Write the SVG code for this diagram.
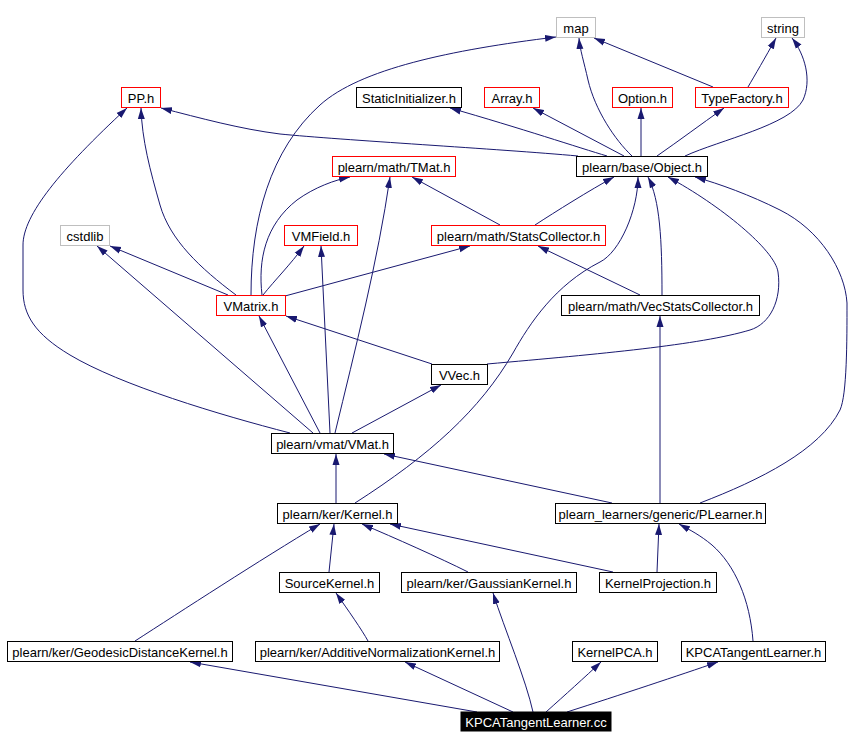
<svg xmlns="http://www.w3.org/2000/svg" width="865" height="748" viewBox="0 0 865 748">
<style>
.n rect{fill:#fff;stroke:#000;stroke-width:1}
.n.r rect{stroke:#f00}
.n.g rect{stroke:#bfbfbf}
.n text{font-family:"Liberation Sans",Arial,sans-serif;font-size:13px;text-anchor:middle;fill:#000}
#n_cc rect{fill:#000;stroke:#000}
#n_cc text{fill:#fff}
#edges path{fill:none;stroke:#191970;stroke-width:1}
</style>
<defs>
<marker id="ah" markerWidth="11" markerHeight="8" refX="11" refY="4" orient="auto" markerUnits="userSpaceOnUse">
<path d="M0,0.5 L11,4 L0,7.5 z" fill="#191970"/>
</marker>
</defs>
<rect width="865" height="748" fill="#fff"/>
<g id="edges" marker-end="url(#ah)">
<path d="M477,712 L190,662" marker-end="url(#ah)"/>
<path d="M513,712 L405,662" marker-end="url(#ah)"/>
<path d="M533,712 C526,680 505,630 493,593" marker-end="url(#ah)"/>
<path d="M546,712 C565,695 585,677 601,662" marker-end="url(#ah)"/>
<path d="M567,712 C620,695 680,675 718,662" marker-end="url(#ah)"/>
<path d="M135,641 C180,612 260,560 320,524" marker-end="url(#ah)"/>
<path d="M368,641 C362,630 348,610 336,593" marker-end="url(#ah)"/>
<path d="M329,572 L334,524" marker-end="url(#ah)"/>
<path d="M468,572 C440,558 395,538 362,524" marker-end="url(#ah)"/>
<path d="M613,572 L390,524" marker-end="url(#ah)"/>
<path d="M657,572 L659,524" marker-end="url(#ah)"/>
<path d="M753,641 C750,600 735,565 712,545 C700,535 690,530 679,524" marker-end="url(#ah)"/>
<path d="M336,503 L336,454" marker-end="url(#ah)"/>
<path d="M355,503 C430,455 480,410 513,353 C530,323 555,285 600,262 C620,252 638,210 638,177" marker-end="url(#ah)"/>
<path d="M612,503 L384,454" marker-end="url(#ah)"/>
<path d="M660,503 L660,316" marker-end="url(#ah)"/>
<path d="M700,503 C760,480 820,450 840,410 C847,395 847,340 847,303 C845,270 820,230 780,210 C750,195 720,184 695,177" marker-end="url(#ah)"/>
<path d="M487,364 C600,354 700,345 750,330 C770,324 782,300 778,272 C775,250 720,205 668,177" marker-end="url(#ah)"/>
<path d="M662,295 C662,240 660,200 648,177" marker-end="url(#ah)"/>
<path d="M640,295 L538,246" marker-end="url(#ah)"/>
<path d="M500,225 L412,177" marker-end="url(#ah)"/>
<path d="M535,225 C555,212 590,190 614,177" marker-end="url(#ah)"/>
<path d="M290,433 C220,415 120,385 70,355 C35,334 23,315 23,290 L23,245 C23,215 60,170 127,108" marker-end="url(#ah)"/>
<path d="M313,433 L97,246" marker-end="url(#ah)"/>
<path d="M320,433 L259,316" marker-end="url(#ah)"/>
<path d="M330,433 L321,246" marker-end="url(#ah)"/>
<path d="M335,433 C355,350 378,260 390,177" marker-end="url(#ah)"/>
<path d="M352,433 L441,385" marker-end="url(#ah)"/>
<path d="M432,364 L286,316" marker-end="url(#ah)"/>
<path d="M236,295 C200,268 170,240 160,205 C150,170 142,140 141,108" marker-end="url(#ah)"/>
<path d="M228,295 L110,246" marker-end="url(#ah)"/>
<path d="M251,295 C251,220 270,150 320,105 C360,69 450,50 556,37" marker-end="url(#ah)"/>
<path d="M262,295 C258,260 265,225 297,200 C315,187 335,180 350,177" marker-end="url(#ah)"/>
<path d="M263,295 C275,280 290,265 304,246" marker-end="url(#ah)"/>
<path d="M285,296 L470,246" marker-end="url(#ah)"/>
<path d="M578,156 C500,149 340,140 280,134 C240,129 200,118 161,108" marker-end="url(#ah)"/>
<path d="M607,156 C580,148 520,128 450,108" marker-end="url(#ah)"/>
<path d="M624,156 L533,108" marker-end="url(#ah)"/>
<path d="M632,156 C615,140 595,110 588,80 C584,62 580,50 579,38" marker-end="url(#ah)"/>
<path d="M641,156 L641,108" marker-end="url(#ah)"/>
<path d="M657,156 C680,140 700,125 724,108" marker-end="url(#ah)"/>
<path d="M685,156 C720,140 790,125 803,100 C812,80 805,55 792,38" marker-end="url(#ah)"/>
<path d="M713,87 L594,38" marker-end="url(#ah)"/>
<path d="M748,87 C755,75 765,58 776,38" marker-end="url(#ah)"/>
</g>
<g id="n_map" class="n g"><rect x="556.5" y="17.5" width="39" height="20"/><text x="576" y="33">map</text></g>
<g id="n_string" class="n g"><rect x="761.5" y="17.5" width="43" height="20"/><text x="783" y="33">string</text></g>
<g id="n_pp" class="n r"><rect x="121.5" y="87.5" width="39" height="20"/><text x="141" y="103">PP.h</text></g>
<g id="n_static" class="n"><rect x="356.5" y="87.5" width="105" height="20"/><text x="409" y="103">StaticInitializer.h</text></g>
<g id="n_array" class="n r"><rect x="484.5" y="87.5" width="55" height="20"/><text x="512" y="103">Array.h</text></g>
<g id="n_option" class="n r"><rect x="612.5" y="87.5" width="60" height="20"/><text x="642.5" y="103">Option.h</text></g>
<g id="n_typefactory" class="n r"><rect x="695.5" y="87.5" width="93" height="20"/><text x="742" y="103">TypeFactory.h</text></g>
<g id="n_object" class="n"><rect x="576.5" y="156.5" width="131" height="20"/><text x="642" y="172">plearn/base/Object.h</text></g>
<g id="n_tmat" class="n r"><rect x="332.5" y="156.5" width="123" height="20"/><text x="394" y="172">plearn/math/TMat.h</text></g>
<g id="n_cstdlib" class="n g"><rect x="60.5" y="225.5" width="49" height="20"/><text x="85" y="241">cstdlib</text></g>
<g id="n_vmfield" class="n r"><rect x="284.5" y="225.5" width="73" height="20"/><text x="321" y="241">VMField.h</text></g>
<g id="n_stats" class="n r"><rect x="431.5" y="225.5" width="174" height="20"/><text x="518.5" y="241">plearn/math/StatsCollector.h</text></g>
<g id="n_vmatrix" class="n r"><rect x="216.5" y="295.5" width="69" height="20"/><text x="251" y="311">VMatrix.h</text></g>
<g id="n_vecstats" class="n"><rect x="561.5" y="295.5" width="198" height="20"/><text x="660.5" y="311">plearn/math/VecStatsCollector.h</text></g>
<g id="n_vvec" class="n"><rect x="431.5" y="364.5" width="56" height="20"/><text x="459.5" y="380">VVec.h</text></g>
<g id="n_vmat" class="n"><rect x="271.5" y="433.5" width="122" height="20"/><text x="332.5" y="449">plearn/vmat/VMat.h</text></g>
<g id="n_kernel" class="n"><rect x="277.5" y="503.5" width="120" height="20"/><text x="337.5" y="519">plearn/ker/Kernel.h</text></g>
<g id="n_plearner" class="n"><rect x="555.5" y="503.5" width="210" height="20"/><text x="660.5" y="519">plearn_learners/generic/PLearner.h</text></g>
<g id="n_source" class="n"><rect x="279.5" y="572.5" width="100" height="20"/><text x="329.5" y="588">SourceKernel.h</text></g>
<g id="n_gauss" class="n"><rect x="401.5" y="572.5" width="175" height="20"/><text x="489" y="588">plearn/ker/GaussianKernel.h</text></g>
<g id="n_kproj" class="n"><rect x="599.5" y="572.5" width="117" height="20"/><text x="658" y="588">KernelProjection.h</text></g>
<g id="n_geo" class="n"><rect x="7.5" y="641.5" width="225" height="20"/><text x="120" y="657">plearn/ker/GeodesicDistanceKernel.h</text></g>
<g id="n_add" class="n"><rect x="255.5" y="641.5" width="244" height="20"/><text x="377.5" y="657">plearn/ker/AdditiveNormalizationKernel.h</text></g>
<g id="n_kpca" class="n"><rect x="572.5" y="641.5" width="85" height="20"/><text x="615" y="657">KernelPCA.h</text></g>
<g id="n_kpcah" class="n"><rect x="681.5" y="641.5" width="144" height="20"/><text x="753.5" y="657">KPCATangentLearner.h</text></g>
<g id="n_cc" class="n"><rect x="461" y="712" width="150" height="19"/><text x="536" y="726.5">KPCATangentLearner.cc</text></g>
</svg>
